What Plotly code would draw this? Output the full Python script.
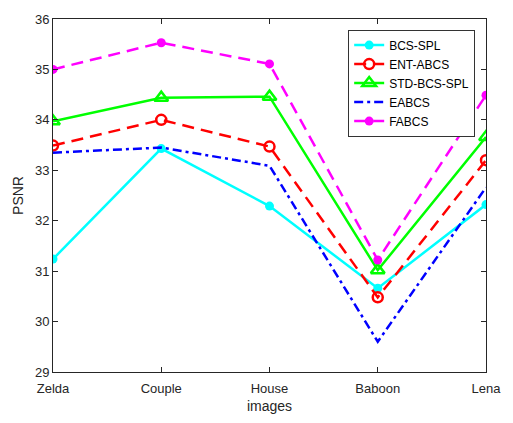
import plotly.graph_objects as go

# Test images on the x axis
images = ["Zelda", "Couple", "House", "Baboon", "Lena"]

# PSNR (dB) per method
bcs_spl = [31.24, 33.43, 32.29, 30.66, 32.32]
ent_abcs = [33.49, 34.00, 33.47, 30.48, 33.20]
std_bcs_spl = [33.97, 34.44, 34.46, 31.02, 33.66]
eabcs = [33.35, 33.45, 33.09, 29.60, 32.66]
fabcs = [35.00, 35.53, 35.11, 31.22, 34.49]

y_ticks = [29, 30, 31, 32, 33, 34, 35, 36]

fig = go.Figure()

fig.add_trace(go.Scatter(
    x=images, y=bcs_spl, name="BCS-SPL", mode="lines+markers",
    line=dict(color="#00FFFF", width=2.5),
    marker=dict(symbol="circle", size=9, color="#00FFFF"),
))
fig.add_trace(go.Scatter(
    x=images, y=ent_abcs, name="ENT-ABCS", mode="lines+markers",
    line=dict(color="#FF0000", width=2.5, dash="12px,7px"),
    marker=dict(symbol="circle-open", size=10, color="#FF0000",
                line=dict(width=2.5, color="#FF0000")),
))
fig.add_trace(go.Scatter(
    x=images, y=std_bcs_spl, name="STD-BCS-SPL", mode="lines+markers",
    line=dict(color="#00FF00", width=2.5),
    marker=dict(symbol="triangle-up-open", size=12, color="#00FF00",
                line=dict(width=2.5, color="#00FF00")),
))
fig.add_trace(go.Scatter(
    x=images, y=eabcs, name="EABCS", mode="lines",
    line=dict(color="#0000FF", width=2.5, dash="9px,4px,3px,4px"),
))
fig.add_trace(go.Scatter(
    x=images, y=fabcs, name="FABCS", mode="lines+markers",
    line=dict(color="#FF00FF", width=2.5, dash="12px,7px"),
    marker=dict(symbol="circle", size=9, color="#FF00FF"),
))

family = "Liberation Sans, Arial, sans-serif"
axis_font = dict(family=family, size=13, color="#262626")

fig.update_layout(
    width=513, height=423,
    margin=dict(l=53, r=15, t=15, b=46),
    paper_bgcolor="white", plot_bgcolor="white",
    font=axis_font,
    showlegend=True,
    legend=dict(
        x=0.975, y=0.97, xanchor="right", yanchor="top",
        bgcolor="white", bordercolor="#333333", borderwidth=1,
        font=dict(family=family, size=12, color="#000000"),
        tracegroupgap=0, itemwidth=30,
    ),
    xaxis=dict(
        type="category", range=[0, 4],
        showline=True, linecolor="#262626", linewidth=1, mirror="ticks",
        ticks="inside", ticklen=5, tickcolor="#262626",
        showgrid=False, zeroline=False,
        ticklabelstandoff=4,
        title=dict(text="images", font=dict(size=14), standoff=6),
        tickfont=axis_font,
    ),
    yaxis=dict(
        range=[29, 36], tickvals=y_ticks,
        showline=True, linecolor="#262626", linewidth=1, mirror="ticks",
        ticks="inside", ticklen=5, tickcolor="#262626",
        showgrid=False, zeroline=False,
        title=dict(text="PSNR", font=dict(size=14), standoff=8),
        tickfont=axis_font,
    ),
)

fig.write_html("out.html")
